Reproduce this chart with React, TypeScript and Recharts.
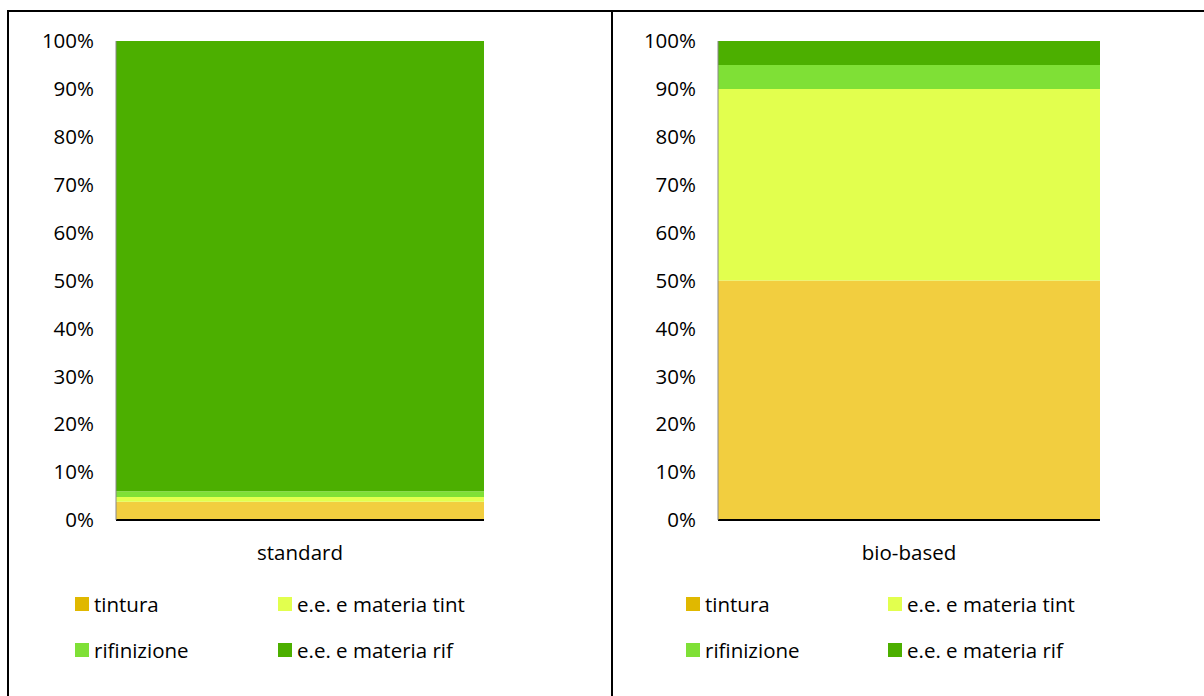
import React from "react";
import { BarChart, Bar, XAxis, YAxis } from "recharts";

// series names + colours
const seriesKeys = ["tintura", "tint", "rifinizione", "rif"];
const seriesNames = ["tintura", "e.e. e materia tint", "rifinizione", "e.e. e materia rif"];
const barColors = ["#F2CE3F", "#E2FF4E", "#7FE036", "#4CAF00"];
const legendColors = ["#E0B800", "#E2FF4E", "#7FE036", "#4CAF00"];

// percentages
const standardValues = [3.8, 1.0, 1.2, 94.0];
const bioValues = [50, 40, 5, 5];

const yTicks = [0, 10, 20, 30, 40, 50, 60, 70, 80, 90, 100];

const FONT = "'Open Sans', sans-serif";
const FS = 20.5;

function toRow(name: string, values: number[]) {
  const row: Record<string, string | number> = { name };
  seriesKeys.forEach((k, i) => {
    row[k] = values[i];
  });
  return [row];
}

function Legend4({ left, col2 }: { left: number; col2: number }) {
  const items = seriesNames.map((n, i) => ({ n, c: legendColors[i] }));
  const pos = [
    { x: 0, y: 0 },
    { x: col2, y: 0 },
    { x: 0, y: 46 },
    { x: col2, y: 46 },
  ];
  return (
    <div style={{ position: "absolute", left, top: 590 }}>
      {items.map((it, i) => (
        <div
          key={it.n}
          style={{
            position: "absolute",
            left: pos[i].x,
            top: pos[i].y,
            display: "flex",
            alignItems: "center",
            whiteSpace: "nowrap",
            fontFamily: FONT,
            fontSize: FS,
            color: "#000",
          }}
        >
          <span style={{ width: 14, height: 14, background: it.c, display: "inline-block", marginRight: 5 }} />
          <span>{it.n}</span>
        </div>
      ))}
    </div>
  );
}

function Panel({ data, left, width, marginLeft, marginRight }: any) {
  return (
    <div style={{ position: "absolute", left, top: 14 }}>
      <BarChart
        width={width}
        height={570}
        data={data}
        barCategoryGap={0}
        margin={{ top: 27, right: marginRight, left: marginLeft, bottom: 24 }}
      >
        <XAxis
          dataKey="name"
          height={40}
          tickLine={false}
          axisLine={{ stroke: "#000", strokeWidth: 2 }}
          tick={{ fill: "#000", fontSize: FS, fontFamily: FONT }}
          tickMargin={19}
        />
        <YAxis
          domain={[0, 100]}
          ticks={yTicks}
          width={80}
          tickLine={false}
          axisLine={{ stroke: "#888" }}
          tickSize={0}
          tickMargin={22}
          tickFormatter={(v: number) => `${v}%`}
          tick={{ fill: "#000", fontSize: FS, fontFamily: FONT }}
          interval={0}
        />
        {seriesKeys.map((k, i) => (
          <Bar
            key={k}
            dataKey={k}
            stackId="a"
            fill={barColors[i]}
            isAnimationActive={false}
          />
        ))}
      </BarChart>
    </div>
  );
}

export default function App() {
  return (
    <div style={{ position: "absolute", left: 0, top: 0, width: 1204, height: 696, background: "#fff" }}>
      {/* table borders */}
      <div style={{ position: "absolute", left: 7, top: 10, width: 1197, height: 2, background: "#000" }} />
      <div style={{ position: "absolute", left: 7, top: 10, width: 2, height: 686, background: "#000" }} />
      <div style={{ position: "absolute", left: 611, top: 10, width: 2, height: 686, background: "#000" }} />

      <Panel data={toRow("standard", standardValues)} left={10} width={600} marginLeft={26} marginRight={126} />
      <Panel data={toRow("bio-based", bioValues)} left={614} width={590} marginLeft={24} marginRight={104} />

      <Legend4 left={75} col2={203} />
      <Legend4 left={686} col2={202} />
    </div>
  );
}
